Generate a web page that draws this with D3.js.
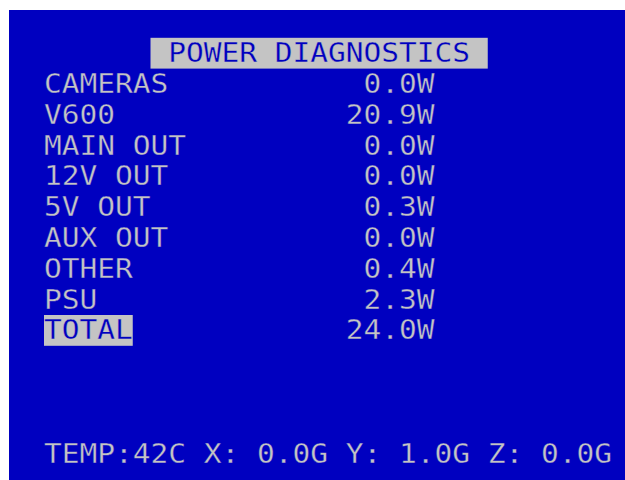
<!DOCTYPE html>
<html>
<head>
<meta charset="utf-8">
<script src="https://cdn.jsdelivr.net/npm/d3@7"></script>
<style>
  html, body { margin: 0; padding: 0; background: #fff; }
  svg { display: block; }
</style>
</head>
<body>
<div id="osd"></div>
<script>
var w = 625, h = 480;

// screen data
var title = "POWER DIAGNOSTICS";
var labels = ["CAMERAS", "V600", "MAIN OUT", "12V OUT", "5V OUT", "AUX OUT", "OTHER", "PSU", "TOTAL"];
var watts = [0.0, 20.9, 0.0, 0.0, 0.3, 0.0, 0.4, 2.3, 24.0];
var highlighted = ["TOTAL"];
var tempC = 42;
var axes = ["X", "Y", "Z"];
var gForce = [0.0, 1.0, 0.0];

var bg = "#0000c0", fg = "#c4c4c4";

// character grid: column -> x, row -> y
var cellW = 17.75, rowH = 30.8;
var col = d3.scaleLinear().domain([0, 1]).range([44, 44 + cellW]);
var row = d3.scaleLinear().domain([0, 1]).range([37.8, 37.8 + rowH]);
var baseline = 24.3;
var valueEnd = 22; // value column ends after col 21

var svg = d3.select("#osd").append("svg")
    .attr("width", w)
    .attr("height", h);

svg.append("rect")
    .attr("x", 9)
    .attr("y", 10)
    .attr("width", w - 9)
    .attr("height", h - 10)
    .attr("fill", bg);

var fmt = d3.format(".1f");

// one entry per text run: text, start col, row, inverted?
var lines = [];
lines.push({ text: " " + title + " ", c: 6, r: 0, inv: true });
labels.forEach(function(l, i) {
  lines.push({ text: l, c: 0, r: i + 1, inv: highlighted.indexOf(l) >= 0 });
  var v = fmt(watts[i]) + "W";
  lines.push({ text: v, c: valueEnd - v.length, r: i + 1, inv: false });
});
var footer = "TEMP:" + tempC + "C " + axes.map(function(a, i) { return a + ": " + fmt(gForce[i]) + "G"; }).join(" ");
lines.push({ text: footer, c: 0, r: 13, inv: false });

var g = svg.selectAll("g.line")
    .data(lines)
    .enter()
    .append("g")
    .attr("class", "line");

g.filter(function(d) { return d.inv; })
  .append("rect")
    .attr("x", function(d) { return col(d.c); })
    .attr("y", function(d) { return row(d.r); })
    .attr("width", function(d) { return d.text.length * cellW; })
    .attr("height", rowH)
    .attr("fill", fg);

// thin the glyphs a little with a stroke in the cell colour
g.append("text")
    .attr("x", function(d) { return col(d.c); })
    .attr("y", function(d) { return row(d.r) + baseline; })
    .attr("textLength", function(d) { return d.text.length * cellW; })
    .attr("lengthAdjust", "spacingAndGlyphs")
    .attr("xml:space", "preserve")
    .style("white-space", "pre")
    .attr("font-family", "'DejaVu Sans Mono', monospace")
    .attr("font-size", 26.5)
    .attr("fill", function(d) { return d.inv ? bg : fg; })
    .attr("stroke", function(d) { return d.inv ? fg : bg; })
    .attr("stroke-width", 0.3)
    .text(function(d) { return d.text; });
</script>
</body>
</html>
